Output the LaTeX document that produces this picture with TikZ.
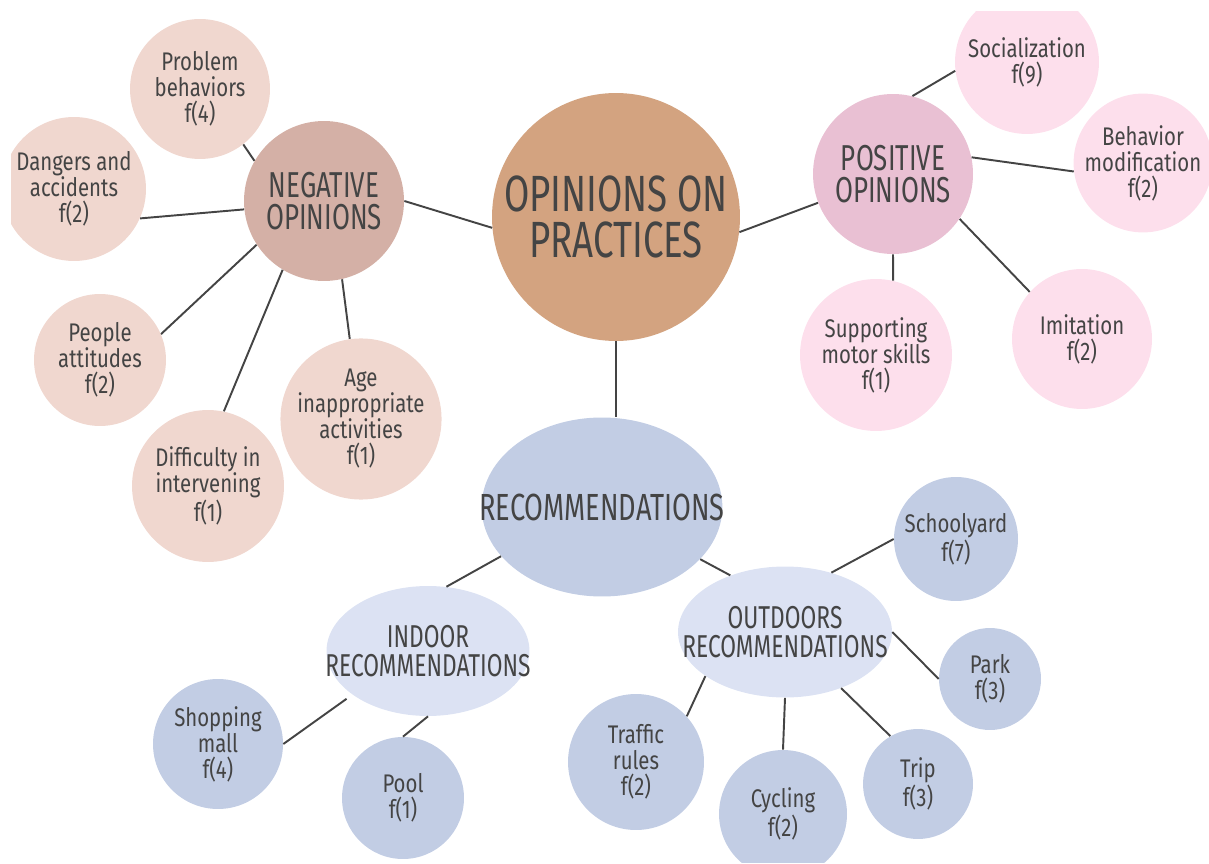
\documentclass[tikz,border=0pt]{standalone}
\usepackage{fontspec}
\setmainfont[FakeStretch=0.80]{Fira Sans}
\newfontfamily\headfont[FakeStretch=0.72]{Fira Sans}
\usetikzlibrary{shapes.geometric}

\definecolor{inkgray}{HTML}{444444}
\definecolor{maincol}{HTML}{D3A380}
\definecolor{negcol}{HTML}{D4B0A6}
\definecolor{neglight}{HTML}{F0D7CF}
\definecolor{poscol}{HTML}{E9C0D3}
\definecolor{poslight}{HTML}{FDDFEC}
\definecolor{reccol}{HTML}{C2CDE4}
\definecolor{reclight}{HTML}{DCE2F3}

\tikzset{
  bubble/.style={circle, fill=#1, inner sep=0pt, align=center, text=inkgray,
    font=\fontsize{14.5}{14.8}\selectfont},
  hub/.style={circle, fill=#1, inner sep=0pt, align=center, text=inkgray,
    font=\headfont\fontsize{20.5}{18.5}\selectfont},
  oval/.style={ellipse, fill=#1, inner xsep=-0.75cm, inner ysep=0pt, align=center, text=inkgray,
    font=\headfont\fontsize{18}{16.5}\selectfont},
  link/.style={draw=inkgray, line width=1.1pt},
}

\begin{document}
\begin{tikzpicture}[x=0.02cm, y=-0.02cm]
  \useasboundingbox (0,0) rectangle (1209,864);
  \clip (11,12) rectangle (1209,862);

  % centre
  \node[hub=maincol, minimum size=4.96cm, font=\headfont\fontsize{29}{26.5}\selectfont]
    (main) at (616,217) {OPINIONS ON\\PRACTICES};

  % negative side
  \node[hub=negcol, minimum size=3.2cm] (neg) at (324,201) {NEGATIVE\\OPINIONS};
  \node[bubble=neglight, minimum size=2.8cm] (probl) at (200,89) {Problem\\behaviors\\f(4)};
  \node[bubble=neglight, minimum size=2.88cm] (danger) at (74,189) {Dangers and\\accidents\\f(2)};
  \node[bubble=neglight, minimum size=2.64cm] (people) at (100,360) {People\\attitudes\\f(2)};
  \node[bubble=neglight, minimum size=3.04cm] (diffic) at (208,486) {Difficulty in\\intervening\\f(1)};
  \node[bubble=neglight, minimum size=3.12cm] (age) at (361,419) {Age\\inappropriate\\activities\\f(1)};

  % positive side
  \node[hub=poscol, minimum size=3.2cm] (pos) at (893,174) {POSITIVE\\OPINIONS};
  \node[bubble=poslight, minimum size=2.88cm] (social) at (1027,62) {Socialization\\f(9)};
  \node[bubble=poslight, minimum size=2.6cm] (behav) at (1143,163) {Behavior\\modification\\f(2)};
  \node[bubble=poslight, minimum size=3.04cm] (motor) at (876,355) {Supporting\\motor skills\\f(1)};
  \node[bubble=poslight, minimum size=2.8cm] (imit) at (1082,339) {Imitation\\f(2)};

  % recommendations
  \node[oval=reccol, minimum width=4.72cm, minimum height=3.58cm, font=\headfont\fontsize{21.5}{17}\selectfont]
    (rec) at (602,507) {RECOMMENDATIONS};
  \node[oval=reclight, minimum width=4.06cm, minimum height=2.6cm] (indoor) at (428,651) {INDOOR\\RECOMMENDATIONS};
  \node[oval=reclight, minimum width=4.28cm, minimum height=2.62cm] (outdoor) at (785,632) {OUTDOORS\\RECOMMENDATIONS};
  \node[bubble=reccol, minimum size=2.6cm] (mall) at (218,744) {Shopping\\mall\\f(4)};
  \node[bubble=reccol, minimum size=2.44cm] (pool) at (403,798) {Pool\\f(1)};
  \node[bubble=reccol, minimum size=2.48cm] (school) at (956,539) {Schoolyard\\f(7)};
  \node[bubble=reccol, minimum size=2.04cm] (park) at (990,679) {Park\\f(3)};
  \node[bubble=reccol, minimum size=2.2cm] (trip) at (918,784) {Trip\\f(3)};
  \node[bubble=reccol, minimum size=2.56cm] (cycl) at (783,814) {Cycling\\f(2)};
  \node[bubble=reccol, minimum size=2.72cm] (traffic) at (636,762) {Traffic\\rules\\f(2)};

  % links
  \draw[link] (main.185) -- (neg.east);
  \draw[link] (main.353) -- (pos.201);
  \draw[link] (main.south) -- (main.south |- rec.north);
  \foreach \a/\t/\b in {150/probl/308, 186/danger/336, 213/people/23, 239/diffic/78, 283/age/98}
    \draw[link] (neg.\a) -- (\t.\b);
  \foreach \a/\t/\b in {76/social/187, 12/behav/187, 270/motor/77, 326/imit/138}
    \draw[link] (pos.\a) -- (\t.\b);
  \draw[link] (rec.206) -- (indoor.74);
  \draw[link] (rec.332) -- (outdoor.134);
  \draw[link, shorten <=4pt] (indoor.210) -- (mall.east);
  \draw[link] (indoor.south) -- (pool.north);
  \foreach \a/\t/\b in {52/school/180, 0/park/180, 315/trip/120, 270/cycl/90, 209/traffic/42}
    \draw[link] (outdoor.\a) -- (\t.\b);
\end{tikzpicture}
\end{document}
